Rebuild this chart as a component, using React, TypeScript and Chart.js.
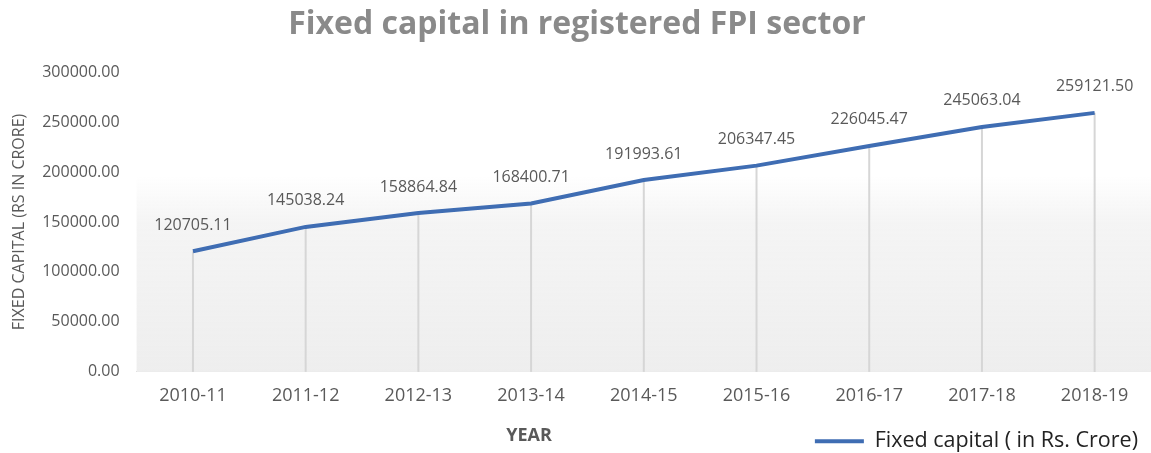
import React, { useEffect, useRef } from "react";
import { Chart, registerables } from "chart.js";

Chart.register(...registerables);

const categories = ["2010-11", "2011-12", "2012-13", "2013-14", "2014-15", "2015-16", "2016-17", "2017-18", "2018-19"];
const fixedCapital = [120705.11, 145038.24, 158864.84, 168400.71, 191993.61, 206347.45, 226045.47, 245063.04, 259121.5];
const seriesName = "Fixed capital ( in Rs. Crore)";
const chartTitle = "Fixed capital in registered FPI sector";
const yAxisTitle = "FIXED CAPITAL (RS IN CRORE)";
const xAxisTitle = "YEAR";
const yMin = 0;
const yMax = 300000;
const yStep = 50000;

const LINE_COLOR = "#3f6db3";
const FONT = "'Open Sans', 'DejaVu Sans', sans-serif";

const decorPlugin = {
  id: "decor",
  afterLayout(chart: any) {
    if (chart.legend) {
      chart.legend.top += 9;
      chart.legend.bottom += 9;
      chart.legend.left -= 3;
      chart.legend.right -= 3;
    }
  },
  beforeDatasetsDraw(chart: any) {
    const { ctx, chartArea } = chart;
    const yScale = chart.scales.y;
    ctx.save();
    const top = yScale.getPixelForValue(195000);
    const g = ctx.createLinearGradient(0, top, 0, chartArea.bottom);
    g.addColorStop(0, "rgba(240,240,240,0)");
    g.addColorStop(0.25, "rgba(243,243,243,0.9)");
    g.addColorStop(1, "rgba(238,238,238,1)");
    ctx.fillStyle = g;
    ctx.fillRect(chartArea.left, top, chartArea.right - chartArea.left, chartArea.bottom - top);
    const meta = chart.getDatasetMeta(0);
    ctx.strokeStyle = "#d6d6d6";
    ctx.lineWidth = 2;
    meta.data.forEach((pt: any) => {
      ctx.beginPath();
      ctx.moveTo(pt.x, pt.y);
      ctx.lineTo(pt.x, chartArea.bottom);
      ctx.stroke();
    });
    ctx.restore();
  },
  afterDatasetsDraw(chart: any) {
    const { ctx } = chart;
    const meta = chart.getDatasetMeta(0);
    ctx.save();
    ctx.font = `16px ${FONT}`;
    ctx.fillStyle = "#595959";
    ctx.textAlign = "center";
    ctx.textBaseline = "middle";
    meta.data.forEach((pt: any, i: number) => {
      ctx.fillText(fixedCapital[i].toFixed(2), pt.x, pt.y - 26);
    });
    ctx.restore();
  },
  afterDraw(chart: any) {
    const { ctx } = chart;
    ctx.save();
    ctx.fillStyle = "#8a8a8a";
    ctx.font = `bold 32px ${FONT}`;
    ctx.textAlign = "center";
    ctx.textBaseline = "middle";
    ctx.fillText(chartTitle, 577, 25);
    ctx.fillStyle = "#595959";
    ctx.font = `bold 18px ${FONT}`;
    ctx.fillText(xAxisTitle, 529, 436);
    ctx.restore();
  },
};

export default function App() {
  const canvasRef = useRef<HTMLCanvasElement>(null);

  useEffect(() => {
    if (!canvasRef.current) return;
    const chart = new Chart(canvasRef.current, {
      type: "line",
      data: {
        labels: categories,
        datasets: [
          {
            label: seriesName,
            data: fixedCapital,
            borderColor: LINE_COLOR,
            backgroundColor: LINE_COLOR,
            borderWidth: 4,
            pointRadius: 0,
            tension: 0,
          },
        ],
      },
      options: {
        animation: false,
        responsive: false,
        layout: { padding: { top: 72, left: 10, right: 0, bottom: 0 } },
        plugins: {
          title: { display: false },
          tooltip: { enabled: false },
          legend: {
            display: true,
            position: "bottom",
            align: "end",
            labels: {
              boxWidth: 49,
              boxHeight: 4,
              color: "#222222",
              font: { family: FONT, size: 21.5 },
              padding: 10,
              generateLabels: (c: any) =>
                Chart.defaults.plugins.legend.labels.generateLabels(c).map((l: any) => ({
                  ...l,
                  lineWidth: 0,
                  fillStyle: LINE_COLOR,
                })),
            },
          },
        },
        scales: {
          x: {
            offset: true,
            grid: { display: false },
            border: { display: true, color: "#d9d9d9", width: 1 },
            ticks: { color: "#595959", font: { family: FONT, size: 18 }, padding: 5 },
          },
          y: {
            min: yMin,
            max: yMax,
            grid: { display: false },
            border: { display: false },
            ticks: {
              stepSize: yStep,
              color: "#595959",
              font: { family: FONT, size: 16 },
              padding: 9,
              callback: (v: any) => Number(v).toFixed(2),
            },
            title: {
              display: true,
              text: yAxisTitle,
              color: "#595959",
              font: { family: FONT, size: 16 },
              padding: { top: 0, bottom: 4 },
            },
          },
        },
      },
      plugins: [decorPlugin],
    });
    return () => chart.destroy();
  }, []);

  return (
    <div style={{ position: "absolute", left: 0, top: 0, width: 1151, height: 453, background: "#fff" }}>
      <canvas ref={canvasRef} width={1151} height={453} style={{ display: "block" }} />
    </div>
  );
}
